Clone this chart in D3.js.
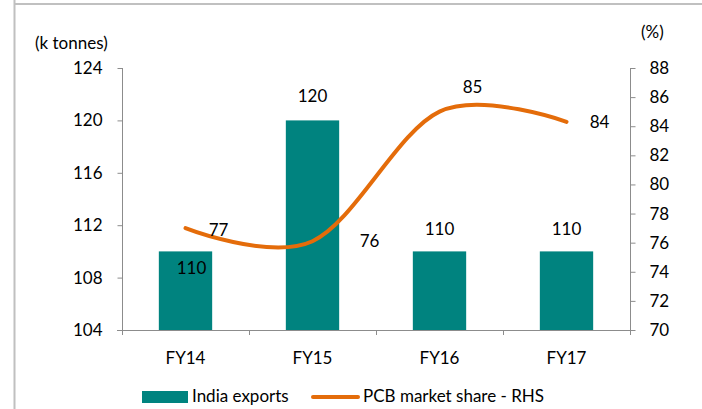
<!DOCTYPE html>
<html>
<head>
<meta charset="utf-8">
<script src="https://cdn.jsdelivr.net/npm/d3@7"></script>
<style>
  body { margin: 0; background: #fff; }
  svg { display: block; font-family: Lato, 'Open Sans', sans-serif; }
</style>
</head>
<body>
<div id="chart"></div>
<script>
// data
const years = ['FY14', 'FY15', 'FY16', 'FY17'];
const indiaExports = [110, 120, 110, 110];  // k tonnes, left axis
const share = [77.0, 76.1, 85.0, 84.3];     // %, right axis
const shareLabels = [77, 76, 85, 84];
const leftTicks = [104, 108, 112, 116, 120, 124];
const rightTicks = [70, 72, 74, 76, 78, 80, 82, 84, 86, 88];

// label offsets (px) relative to the mark
const barLabelDy = [17, -24, -22, -22];
const barLabelDx = [6, 0, 0, 0];
const lineLabelDx = [33, 57, 33, 33];
const lineLabelDy = [2, 0, -25, 0];

const width = 702, height = 409;
const plotLeft = 122, plotRight = 630, plotTop = 68, plotBottom = 330;
const teal = '#00837f', orange = '#e46c0a', axisCol = '#8c8c8c';
const fs = 17;

const svg = d3.select('#chart').append('svg')
  .attr('width', width).attr('height', height);

// frame lines (cut-off page border)
svg.append('line').attr('x1', 14).attr('x2', width).attr('y1', 4).attr('y2', 4)
  .attr('stroke', '#c0c0c0').attr('stroke-width', 2);
svg.append('line').attr('x1', 14.5).attr('x2', 14.5).attr('y1', 0).attr('y2', height)
  .attr('stroke', '#c0c0c0').attr('stroke-width', 2);

const x = d3.scaleBand().domain(years).range([plotLeft, plotRight]);
const yL = d3.scaleLinear().domain([104, 124]).range([plotBottom, plotTop]);
const yR = d3.scaleLinear().domain([70, 88]).range([plotBottom, plotTop]);

// left axis
const axL = svg.append('g').attr('transform', `translate(${plotLeft + 0.5},0)`)
  .call(d3.axisLeft(yL).tickValues(leftTicks).tickSize(5).tickPadding(15));
// right axis
const axR = svg.append('g').attr('transform', `translate(${plotRight + 0.5},0)`)
  .call(d3.axisRight(yR).tickValues(rightTicks).tickSize(5).tickPadding(14));
[axL, axR].forEach(a => {
  a.select('.domain').attr('stroke', axisCol).attr('d', `M0,${plotTop}V${plotBottom}`);
  a.selectAll('.tick line').attr('stroke', axisCol);
  a.selectAll('.tick text').attr('font-size', fs).attr('fill', '#000')
    .attr('font-family', 'Lato, sans-serif');
});

// bars
svg.selectAll('.bar').data(indiaExports).enter().append('rect')
  .attr('class', 'bar')
  .attr('x', (d, i) => x(years[i]) + x.bandwidth() * 0.29)
  .attr('width', x.bandwidth() * 0.42)
  .attr('y', d => yL(d))
  .attr('height', d => yL(104) - yL(d))
  .attr('fill', teal);

// x axis
svg.append('line').attr('x1', plotLeft - 5).attr('x2', plotRight + 5)
  .attr('y1', plotBottom + 0.5).attr('y2', plotBottom + 0.5).attr('stroke', axisCol);
svg.selectAll('.xtick').data(d3.range(years.length + 1)).enter().append('line')
  .attr('x1', i => plotLeft + i * x.step() + 0.5).attr('x2', i => plotLeft + i * x.step() + 0.5)
  .attr('y1', plotBottom).attr('y2', plotBottom + 5).attr('stroke', axisCol);
svg.selectAll('.xlab').data(years).enter().append('text')
  .attr('x', d => x(d) + x.bandwidth() / 2).attr('y', 364)
  .attr('text-anchor', 'middle').attr('font-size', fs).text(d => d);

// line
const cx = i => x(years[i]) + x.bandwidth() / 2;
const line = d3.line().x((d, i) => cx(i)).y(d => yR(d)).curve(d3.curveCardinal.tension(0));
svg.append('path').datum(share).attr('d', line)
  .attr('fill', 'none').attr('stroke', orange).attr('stroke-width', 4).attr('stroke-linecap', 'round');

// bar labels
svg.selectAll('.blab').data(indiaExports).enter().append('text')
  .attr('x', (d, i) => cx(i) + barLabelDx[i])
  .attr('y', (d, i) => yL(d) + barLabelDy[i])
  .attr('dy', '0.35em').attr('text-anchor', 'middle').attr('font-size', fs)
  .text(d => d);

// line labels
svg.selectAll('.llab').data(share).enter().append('text')
  .attr('x', (d, i) => cx(i) + lineLabelDx[i])
  .attr('y', (d, i) => yR(d) + lineLabelDy[i])
  .attr('dy', '0.35em').attr('text-anchor', 'middle').attr('font-size', fs)
  .text((d, i) => shareLabels[i]);

// axis titles
svg.append('text').attr('x', 35).attr('y', 49).attr('font-size', fs).text('(k tonnes)');
svg.append('text').attr('x', 641).attr('y', 38).attr('font-size', fs).text('(%)');

// legend
svg.append('rect').attr('x', 142).attr('y', 391).attr('width', 46).attr('height', 12).attr('fill', teal);
svg.append('text').attr('x', 192).attr('y', 402).attr('font-size', fs).text('India exports');
svg.append('line').attr('x1', 313).attr('x2', 358).attr('y1', 397).attr('y2', 397)
  .attr('stroke', orange).attr('stroke-width', 4).attr('stroke-linecap', 'round');
svg.append('text').attr('x', 363).attr('y', 402).attr('font-size', fs).text('PCB market share - RHS');
</script>
</body>
</html>
